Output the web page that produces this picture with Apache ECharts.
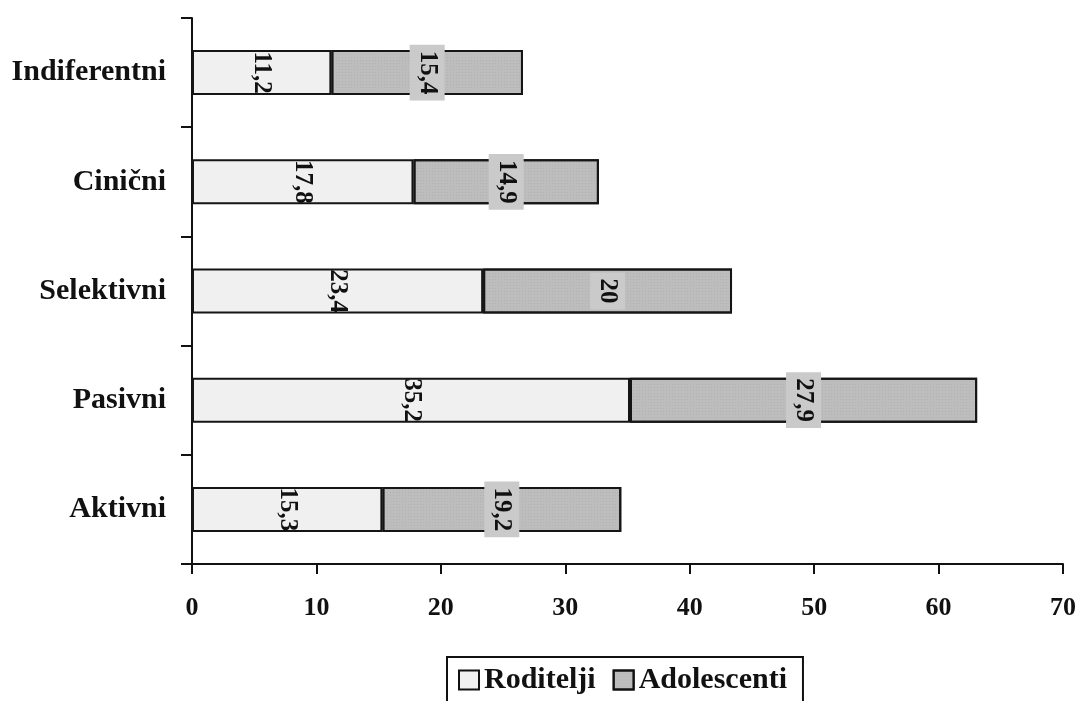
<!DOCTYPE html>
<html>
<head>
<meta charset="utf-8">
<script src="https://cdn.jsdelivr.net/npm/echarts@6/dist/echarts.min.js"></script>
<style>
  html, body { margin: 0; padding: 0; background: #ffffff; }
  #chart { width: 1082px; height: 701px; }
</style>
</head>
<body>
<div id="chart"></div>
<script>
// Data (top to bottom)
const categories = ['Indiferentni', 'Cinični', 'Selektivni', 'Pasivni', 'Aktivni'];
const roditelji = [11.2, 17.8, 23.4, 35.2, 15.3];
const adolescenti = [15.4, 14.9, 20, 27.9, 19.2];
const seriesNames = ['Roditelji', 'Adolescenti'];
const xTicks = [0, 10, 20, 30, 40, 50, 60, 70];

const FONT = '"Liberation Serif", "Times New Roman", serif';
const fmt = p => String(p.value).replace('.', ',');

const chart = echarts.init(document.getElementById('chart'), null, { renderer: 'canvas' });
chart.setOption({
  backgroundColor: '#ffffff',
  animation: false,
  grid: { left: 192, right: 19, top: 18, bottom: 137, containLabel: false },
  xAxis: {
    type: 'value',
    min: xTicks[0],
    max: xTicks[xTicks.length - 1],
    interval: 10,
    splitLine: { show: false },
    axisLine: { show: true, lineStyle: { color: '#111', width: 2 } },
    axisTick: { show: true, length: 10, lineStyle: { color: '#111', width: 2 } },
    axisLabel: { margin: 31, fontFamily: FONT, fontWeight: 'bold', fontSize: 26, color: '#111' }
  },
  yAxis: {
    type: 'category',
    data: categories,
    inverse: true,
    axisLine: { show: true, lineStyle: { color: '#111', width: 2 } },
    axisTick: { show: true, length: 11, lineStyle: { color: '#111', width: 2 } },
    axisLabel: { margin: 26, fontFamily: FONT, fontWeight: 'bold', fontSize: 30, color: '#111' }
  },
  legend: {
    data: seriesNames,
    left: 447,
    top: 657,
    orient: 'horizontal',
    borderColor: '#111',
    borderWidth: 2,
    padding: [8, 16, 8, 11],
    itemWidth: 20,
    itemHeight: 19,
    itemGap: 17,
    icon: 'rect',
    itemStyle: { borderColor: '#111', borderWidth: 2 },
    textStyle: { fontFamily: FONT, fontWeight: 'bold', fontSize: 30, color: '#111' }
  },
  series: [
    {
      name: seriesNames[0],
      type: 'bar',
      stack: 'total',
      data: roditelji,
      barWidth: 45,
      itemStyle: { color: '#f0f0f0', borderColor: '#151515', borderWidth: 2 },
      label: {
        show: true, position: 'inside', rotate: -90, formatter: fmt,
        fontFamily: FONT, fontWeight: 'bold', fontSize: 25, color: '#111'
      }
    },
    {
      name: seriesNames[1],
      type: 'bar',
      stack: 'total',
      data: adolescenti,
      barWidth: 45,
      itemStyle: {
        color: '#bdbdbd', borderColor: '#151515', borderWidth: 2,
        decal: { symbol: 'rect', symbolSize: 0.6, dashArrayX: [1, 2], dashArrayY: [1, 2], color: 'rgba(90,90,90,0.35)' }
      },
      label: {
        show: true, position: 'inside', rotate: -90, formatter: fmt,
        fontFamily: FONT, fontWeight: 'bold', fontSize: 25, color: '#111',
        backgroundColor: '#cacaca', padding: [5, 6, 5, 6]
      }
    }
  ]
});
</script>
</body>
</html>
